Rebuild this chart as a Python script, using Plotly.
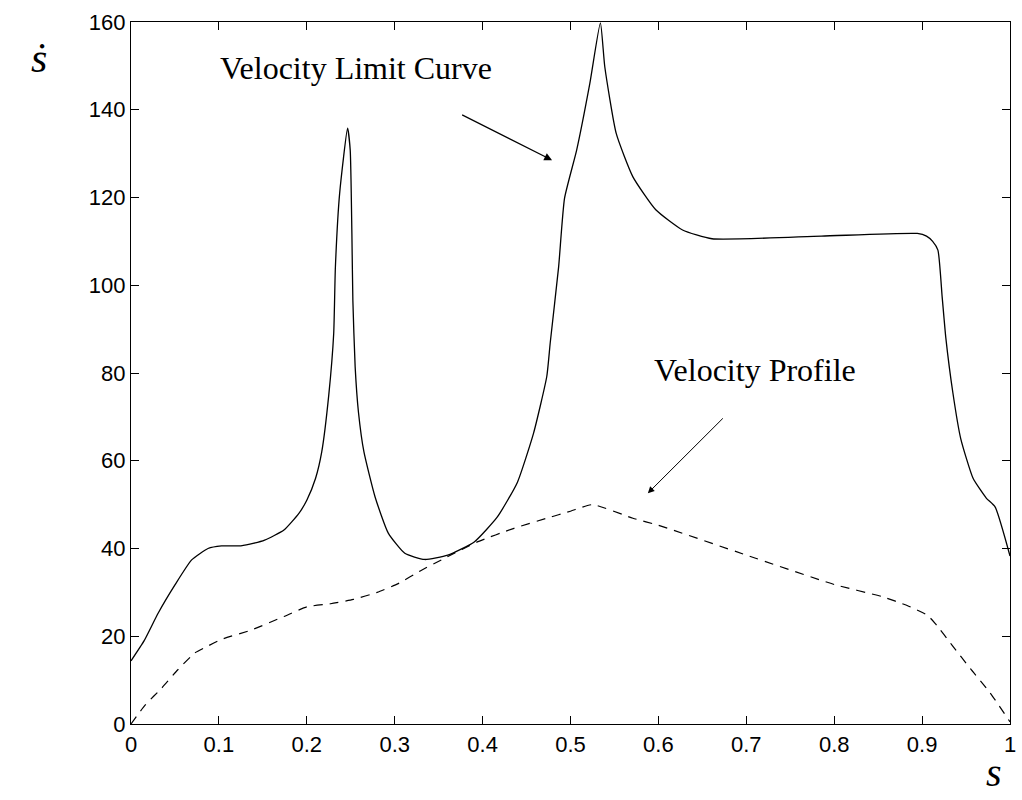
import plotly.graph_objects as go

# Velocity limit curve (solid)
limit_s = [0.0, 0.015, 0.031, 0.05, 0.069, 0.0876, 0.103, 0.125, 0.14, 0.152, 0.174, 0.191, 0.2,
           0.21, 0.217, 0.225, 0.2306, 0.2325, 0.2374, 0.2464, 0.2494, 0.2513, 0.2524, 0.255, 0.2588,
           0.265, 0.2776, 0.2927, 0.3115, 0.334, 0.3604, 0.3905, 0.4168, 0.4394, 0.458, 0.473, 0.477,
           0.4865, 0.4932, 0.507, 0.522, 0.534, 0.539, 0.552, 0.571, 0.597, 0.6275, 0.661, 0.7855,
           0.8946, 0.905, 0.912, 0.918, 0.9228, 0.927, 0.935, 0.944, 0.958, 0.973, 0.983, 1.0]
limit_v = [14.4, 19.0, 25.3, 31.7, 37.4, 40.0, 40.6, 40.6, 41.2, 41.9, 44.2, 48.0, 51.0,
           56.0, 62.0, 75.0, 89.0, 104.0, 121.0, 135.8, 130.8, 111.8, 96.6, 81.4, 71.0,
           62.0, 51.8, 43.5, 38.9, 37.5, 38.5, 41.5, 47.2, 55.0, 66.3, 79.2, 87.0,
           104.2, 119.8, 130.8, 146.0, 159.8, 149.8, 134.6, 124.7, 117.2, 112.6, 110.6, 111.2,
           111.8, 111.2, 110.0, 108.0, 97.4, 88.0, 75.5, 65.0, 56.0, 51.5, 49.5, 38.3]

# Velocity profile (dashed)
profile_s = [0.0, 0.016, 0.035, 0.053, 0.0726, 0.0858, 0.103, 0.1366, 0.174, 0.2, 0.227, 0.253,
             0.28, 0.304, 0.33, 0.353, 0.394, 0.4357, 0.473, 0.5, 0.525, 0.571, 0.6, 0.7, 0.8,
             0.855, 0.883, 0.906, 0.915, 0.934, 0.955, 0.977, 1.0]
profile_v = [0.0, 4.3, 8.2, 12.3, 16.2, 17.6, 19.3, 21.4, 24.5, 26.7, 27.4, 28.4,
             30.0, 32.0, 35.0, 37.4, 41.5, 44.6, 46.9, 48.5, 50.0, 46.9, 45.3, 38.5, 31.8,
             29.0, 27.0, 24.8, 22.9, 18.0, 12.6, 7.2, 0.5]

x_ticks = [0, 0.1, 0.2, 0.3, 0.4, 0.5, 0.6, 0.7, 0.8, 0.9, 1]
x_tick_text = ["0", "0.1", "0.2", "0.3", "0.4", "0.5", "0.6", "0.7", "0.8", "0.9", "1"]
y_ticks = [0, 20, 40, 60, 80, 100, 120, 140, 160]
y_tick_text = ["0", "20", "40", "60", "80", "100", "120", "140", "160"]

fig = go.Figure()
fig.add_trace(go.Scatter(x=limit_s, y=limit_v, mode="lines",
                         line=dict(color="black", width=1.3, shape="spline", smoothing=0.5),
                         showlegend=False))
fig.add_trace(go.Scatter(x=profile_s, y=profile_v, mode="lines",
                         line=dict(color="black", width=1.2, dash="9px,7px", shape="spline", smoothing=0.5),
                         showlegend=False))

serif = "Liberation Serif"
fig.add_annotation(x=0.2556, y=149.5, xref="x", yref="y", text="Velocity Limit Curve",
                   showarrow=False, font=dict(family=serif, size=32, color="black"))
fig.add_annotation(x=0.71, y=80.7, xref="x", yref="y", text="Velocity Profile",
                   showarrow=False, font=dict(family=serif, size=32, color="black"))
# arrows
fig.add_annotation(x=0.479, y=128.5, ax=0.375, ay=139.0, xref="x", yref="y", axref="x", ayref="y",
                   text="", showarrow=True, arrowhead=2, arrowsize=1.3, arrowwidth=1.2, arrowcolor="black")
fig.add_annotation(x=0.588, y=52.6, ax=0.675, ay=70.0, xref="x", yref="y", axref="x", ayref="y",
                   text="", showarrow=True, arrowhead=2, arrowsize=1.3, arrowwidth=1.0, arrowcolor="black")
# axis labels
fig.add_annotation(x=38, y=58, xref="paper", yref="paper", text="<i>ṡ</i>", showarrow=False,
                   font=dict(family=serif, size=42, color="black"))
fig.add_annotation(x=1000, y=772, xref="paper", yref="paper", text="<i>s</i>", showarrow=False,
                   font=dict(family=serif, size=40, color="black"))

W, H = 1022, 800
L, R, T, B = 131, 6, 22, 76
# convert pixel positions of axis labels into paper coords
for ann in fig.layout.annotations[-2:]:
    px, py = ann.x, ann.y
    ann.x = (px - L) / (W - L - R)
    ann.y = 1 - (py - T) / (H - T - B)
    ann.update(xanchor="center", yanchor="middle")

axis_common = dict(showgrid=False, zeroline=False, showline=True, linecolor="black", linewidth=1.3,
                   mirror="allticks", ticks="inside", ticklen=8, tickwidth=1, tickcolor="black",
                   ticklabeloverflow="allow",
                   tickfont=dict(family="Liberation Sans", size=22, color="black"))
fig.update_xaxes(range=[0, 1], tickvals=x_ticks, ticktext=x_tick_text, **axis_common)
fig.update_yaxes(range=[0, 160], tickvals=y_ticks, ticktext=y_tick_text, **axis_common)

fig.update_layout(width=W, height=H, margin=dict(l=L, r=R, t=T, b=B),
                  plot_bgcolor="white", paper_bgcolor="white")
fig.write_html("out.html")
